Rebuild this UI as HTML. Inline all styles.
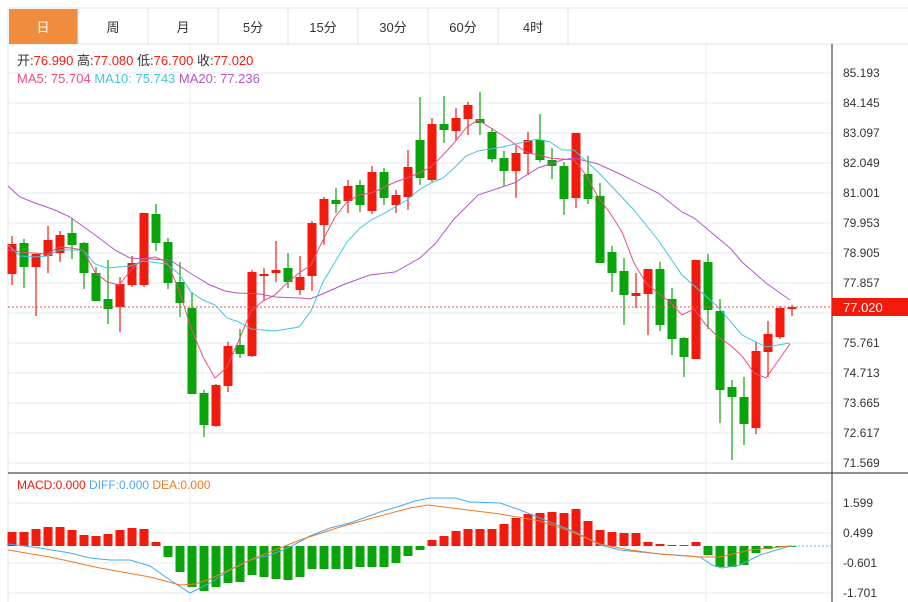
<!DOCTYPE html>
<html><head><meta charset="utf-8">
<style>
body{margin:0;background:#fff;width:908px;height:602px;overflow:hidden;font-family:"Liberation Sans","Noto Sans CJK SC",sans-serif}
svg{position:absolute;left:0;top:0}
</style></head><body>
<svg id="s" width="908" height="602" xmlns="http://www.w3.org/2000/svg" font-family="Liberation Sans, Noto Sans CJK SC, sans-serif"></svg>
<script>
var s=document.getElementById('s'),h='';
function L(x1,y1,x2,y2,c,w,d){h+='<line x1="'+x1+'" y1="'+y1+'" x2="'+x2+'" y2="'+y2+'" stroke="'+c+'" stroke-width="'+(w||1)+'"'+(d?' stroke-dasharray="'+d+'"':'')+'/>';}
function R(x,y,w,hh,c){h+='<rect x="'+x+'" y="'+y+'" width="'+w+'" height="'+hh+'" fill="'+c+'"/>';}
function T(x,y,t,c,sz,a){h+='<text x="'+x+'" y="'+y+'" fill="'+c+'" font-size="'+(sz||12)+'"'+(a?' text-anchor="'+a+'"':'')+'>'+t+'</text>';}
function P(pts,c){h+='<polyline fill="none" stroke="'+c+'" stroke-width="1" points="'+pts.map(function(p){return p.join(',')}).join(' ')+'"/>';}
// frame
R(8,8,900,594,'#fff');
L(8,8,908,8,'#dfe4ea');L(8,8,8,602,'#dfe4ea');L(8,44,908,44,'#dfe4ea');
var tabs=['日','周','月','5分','15分','30分','60分','4时'];
for(var i=0;i<8;i++){var x=8+i*70;if(i==0)R(x+1,9,69,35,'#f28c3d');L(x+70,8,x+70,44,'#dfe4ea');T(x+35,32,tabs[i],i==0?'#fff':'#333',13,'middle');}
// grid
var labs=['85.193','84.145','83.097','82.049','81.001','79.953','78.905','77.857','76.809','75.761','74.713','73.665','72.617','71.569'];
for(i=0;i<14;i++){var y=73+i*30;L(8,y,832,y,'#e6ebf0');if(i!=8)T(843,y+4,labs[i],'#333',12);}
[190,430,706].forEach(function(x){L(x,44,x,602,'#e6ebf0');});
[503,533,563,593].forEach(function(y){L(8,y,832,y,'#e6ebf0');});
T(843,507,'1.599','#333',12);T(843,537,'0.499','#333',12);T(843,567,'-0.601','#333',12);T(843,597,'-1.701','#333',12);
L(832,44,832,602,'#222');L(8,473,908,473,'#222');
// candles [open,close,high,low] in y coords; up if close<open
var C=[[274,244,236,285],[243,267,239,288],[267,254,253,316],[256,240,226,273],[253,235,231,262],[233,245,218,259],[243,273,242,289],[273,301,267,301],[299,309,260,324],[307,284,277,332],[285,263,256,287],[285,213,213,287],[214,243,204,251],[242,283,238,289],[282,303,262,317],[308,394,293,394],[393,425,390,437],[426,385,384,427],[386,346,342,392],[345,354,329,358],[356,272,270,357],[276,274,268,301],[273,270,241,282],[268,282,253,288],[290,277,256,295],[276,223,221,291],[225,199,197,245],[200,204,188,213],[201,186,180,213],[185,205,180,212],[211,172,166,214],[172,198,168,205],[205,195,190,213],[197,167,150,210],[140,178,97,185],[180,124,118,182],[124,130,96,143],[131,118,108,140],[119,105,102,135],[119,123,92,135],[132,159,128,162],[158,171,151,186],[171,153,146,198],[154,140,132,175],[140,160,114,162],[160,166,148,179],[166,199,162,215],[198,133,133,208],[174,199,156,204],[196,263,183,263],[252,273,246,292],[271,295,258,325],[296,293,273,308],[294,269,269,335],[269,325,262,331],[299,339,288,355],[338,357,337,377],[359,260,260,359],[262,310,254,329],[311,390,299,423],[387,397,380,460],[397,424,377,445],[428,351,342,434],[352,334,321,377],[337,308,306,339],[309,307,305,316]];
C.forEach(function(c,i){var x=12+i*12,up=c[1]<c[0],col=up?'#f21a0c':'#08a40a';
L(x,c[2],x,c[3],col,1.2);var t=Math.min(c[0],c[1]),b=Math.max(c[0],c[1]);R(x-4.5,t,9,Math.max(b-t,2),col);});
// MAs
P([[8,186],[20,197],[35,203],[55,210],[70,217],[95,235],[115,250],[130,258],[150,259],[170,260],[190,273],[210,285],[225,291],[237,293],[260,294],[275,297],[300,298],[310,299],[320,295],[345,284],[370,275],[395,272],[420,258],[435,244],[454,219],[478,195],[514,183],[538,168],[562,160],[574,158],[598,164],[622,175],[658,193],[682,212],[694,218],[706,228],[730,248],[742,262],[766,283],[790,300]],'#b455c8');
P([[8,245],[20,256],[35,257],[47,256],[59,250],[83,250],[95,264],[107,268],[131,266],[143,261],[167,264],[179,274],[191,292],[203,300],[215,305],[227,318],[239,322],[251,329],[275,331],[299,327],[311,311],[323,282],[335,262],[347,242],[359,229],[371,220],[383,214],[395,207],[407,200],[419,190],[431,183],[443,178],[454,168],[466,156],[478,151],[502,147],[538,139],[550,142],[562,150],[574,150],[598,172],[634,210],[658,240],[682,275],[718,307],[742,335],[766,347],[790,343]],'#3fc8dc');
P([[8,250],[20,252],[47,254],[59,247],[71,248],[83,250],[95,272],[107,282],[119,285],[131,270],[143,259],[155,257],[167,262],[179,290],[191,328],[203,357],[215,378],[227,367],[239,340],[251,311],[263,301],[275,295],[287,283],[299,273],[311,265],[323,240],[335,217],[347,202],[359,195],[371,193],[383,188],[395,182],[407,178],[419,173],[431,167],[443,155],[454,143],[466,128],[478,120],[502,135],[526,152],[550,158],[574,160],[586,175],[598,197],[610,213],[622,232],[634,263],[646,283],[658,293],[670,302],[682,315],[694,309],[706,325],[718,337],[730,345],[742,356],[754,373],[766,378],[790,344]],'#ec4d80');
// last price line
L(8,307,832,307,'#f05050',1,'2,2');
R(832,298,76,18,'#f21a0c');T(843,312,'77.020','#fff',13);
// header texts
h+='<text x="17" y="65" font-size="13"><tspan fill="#333">开:</tspan><tspan fill="#f21a0c">76.990 </tspan><tspan fill="#333"> 高:</tspan><tspan fill="#f21a0c">77.080 </tspan><tspan fill="#333"> 低:</tspan><tspan fill="#f21a0c">76.700 </tspan><tspan fill="#333"> 收:</tspan><tspan fill="#f21a0c">77.020</tspan></text>';
h+='<text x="17" y="83" font-size="13"><tspan fill="#ec4d80">MA5: 75.704 </tspan><tspan fill="#3fc8dc"> MA10: 75.743 </tspan><tspan fill="#b455c8"> MA20: 77.236</tspan></text>';
// MACD
var Z=546;
var H=[532,532,529,527,527,530,535,536,534,530,528,529,542,557,572,587,591,587,583,582,575,577,579,580,577,569,569,569,569,567,567,567,563,556,550,540,536,531,529,529,529,524,518,514,513,512,513,509,521,530,532,533,533,542,544,545,545,542,555,567,567,565,553,549,547,547];
H.forEach(function(y,i){var x=12+i*12,col=y<Z?'#f21a0c':'#08a40a';R(x-4.5,Math.min(y,Z),9,Math.max(Math.abs(y-Z),1),col);});
L(790,546,832,546,'#6ab4f0',1,'2,2');
P([[8,544],[40,548],[70,553],[90,558],[110,560],[130,560],[150,566],[170,580],[190,593],[210,583],[230,570],[250,560],[270,555],[290,547],[310,536],[330,528],[350,523],[380,512],[400,506],[415,501],[430,498],[455,498],[470,502],[500,503],[520,510],[540,518],[575,532],[600,545],[620,550],[660,554],[690,556],[700,557],[712,565],[722,568],[740,565],[760,555],[790,546]],'#4ba8f0');
P([[8,550],[50,557],[100,568],[150,577],[180,585],[195,584],[210,579],[250,560],[300,540],[340,527],[380,516],[410,508],[428,505],[460,509],[500,514],[540,521],[570,531],[600,544],[630,550],[660,554],[700,557],[720,557],[750,550],[790,546]],'#f07a20');
h+='<text x="17" y="489" font-size="12"><tspan fill="#f21a0c">MACD:0.000 </tspan><tspan fill="#4ba8f0"> DIFF:0.000 </tspan><tspan fill="#f07a20"> DEA:0.000</tspan></text>';
s.innerHTML=h;
</script>
</body></html>
